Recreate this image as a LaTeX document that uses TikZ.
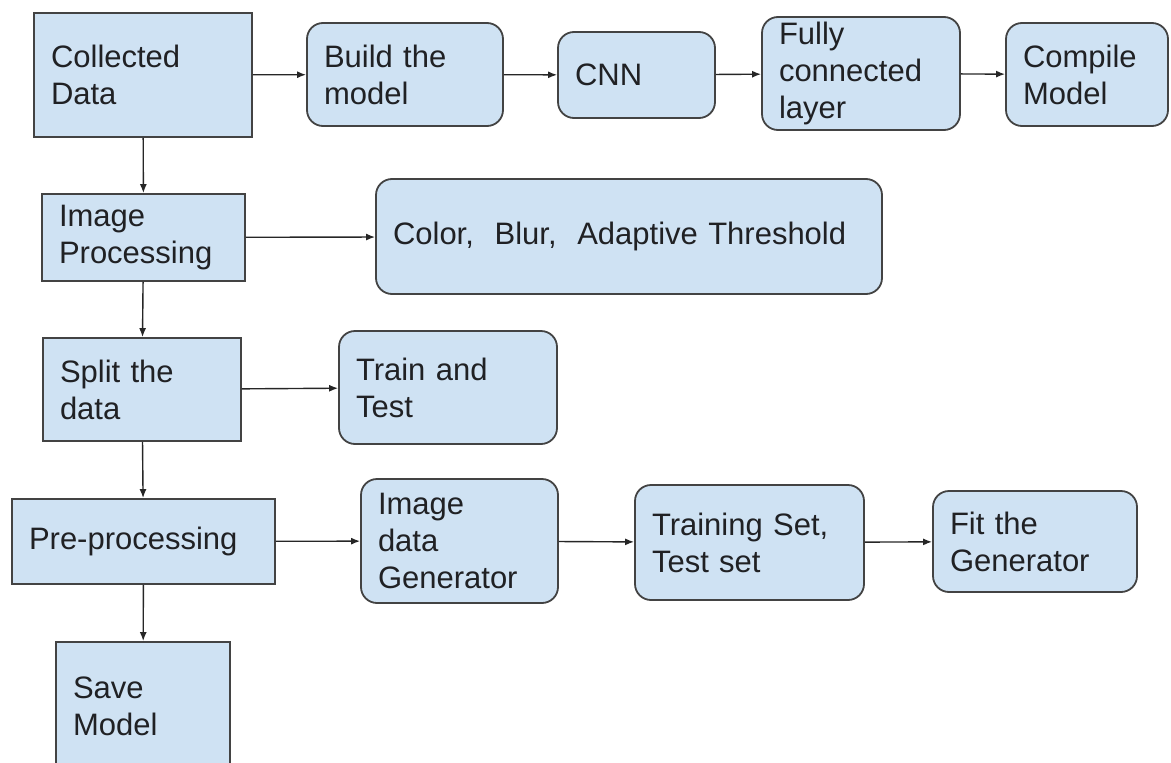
\documentclass[tikz,border=0pt]{standalone}
\usepackage{fontspec}
\setmainfont{Liberation Sans}
\usepackage{tikz}
\usetikzlibrary{arrows.meta}
\tikzstyle{flowChart} = [x = 1pt, y = -1pt]
\definecolor{boxFill}{HTML}{CFE2F3}
\definecolor{boxLine}{HTML}{434343}
\definecolor{boxText}{HTML}{202124}
\tikzstyle{squareBoxStyle} = [draw=boxLine, fill=boxFill, line width=1.8pt, align=left, inner sep=0pt, text=boxText, font=\fontsize{31}{37}\selectfont]
\tikzstyle{roundBoxStyle} = [squareBoxStyle, rounded corners=16pt]
\tikzstyle{flowArrow} = [-{Latex[length=9pt, width=7pt]}, line width=1.4pt, color=black!85]
\newcommand{\inset}{17}
\newcommand{\flowBox}[7]{
  \pgfmathsetmacro{\boxWidth}{#5 - #3}
  \pgfmathsetmacro{\boxHeight}{#6 - #4}
  \pgfmathsetmacro{\boxTextWidth}{#5 - #3 - 2 * \inset}
  \node [#2, minimum width = \boxWidth pt, minimum height = \boxHeight pt, text width = \boxTextWidth pt] (#1) at ({(#3 + #5) / 2}, {(#4 + #6) / 2}) {#7};
}
\newcommand{\squareBox}[6]{\flowBox{#1}{squareBoxStyle}{#2}{#3}{#4}{#5}{#6}}
\newcommand{\roundBox}[6]{\flowBox{#1}{roundBoxStyle}{#2}{#3}{#4}{#5}{#6}}
\newcommand{\flowLink}[2]{\draw [flowArrow] (#1) -- (#2);}

\begin{document}
\begin{tikzpicture}[flowChart]
  \useasboundingbox (0,0) rectangle (1171,763);
  \squareBox{collectedData}{34}{13}{252}{137}{Collected\\Data}
  \roundBox{buildModel}{307}{23}{503}{126}{Build the\\model}
  \roundBox{cnn}{558}{32}{715}{118}{CNN}
  \roundBox{fullyConnected}{762}{17}{960}{130}{Fully\\connected\\layer}
  \roundBox{compileModel}{1006}{23}{1168}{126}{Compile\\Model}

  \squareBox{imageProcessing}{42}{194}{245}{281}{Image\\Processing}
  \roundBox{colorBlur}{376}{179}{882}{294}{Color,\ \ Blur,\ \ Adaptive Threshold}

  \squareBox{splitData}{43}{338}{241}{441}{Split the\\data}
  \roundBox{trainTest}{339}{331}{557}{444}{Train and\\Test}

  \squareBox{preProcessing}{12}{499}{275}{584}{Pre-processing}
  \roundBox{dataGenerator}{361}{479}{558}{603}{Image\\data\\Generator}
  \roundBox{trainingSet}{635}{485}{864}{600}{Training Set,\\Test set}
  \roundBox{fitGenerator}{933}{491}{1137}{592}{Fit the\\Generator}

  \squareBox{saveModel}{56}{642}{230}{770}{Save\\Model}

  \flowLink{collectedData}{buildModel}
  \flowLink{buildModel}{cnn}
  \flowLink{cnn}{fullyConnected}
  \flowLink{fullyConnected}{compileModel}
  \flowLink{collectedData}{imageProcessing}
  \flowLink{imageProcessing}{colorBlur}
  \flowLink{imageProcessing}{splitData}
  \flowLink{splitData}{trainTest}
  \flowLink{splitData}{preProcessing}
  \flowLink{preProcessing}{dataGenerator}
  \flowLink{dataGenerator}{trainingSet}
  \flowLink{trainingSet}{fitGenerator}
  \flowLink{preProcessing}{saveModel}
\end{tikzpicture}
\end{document}
